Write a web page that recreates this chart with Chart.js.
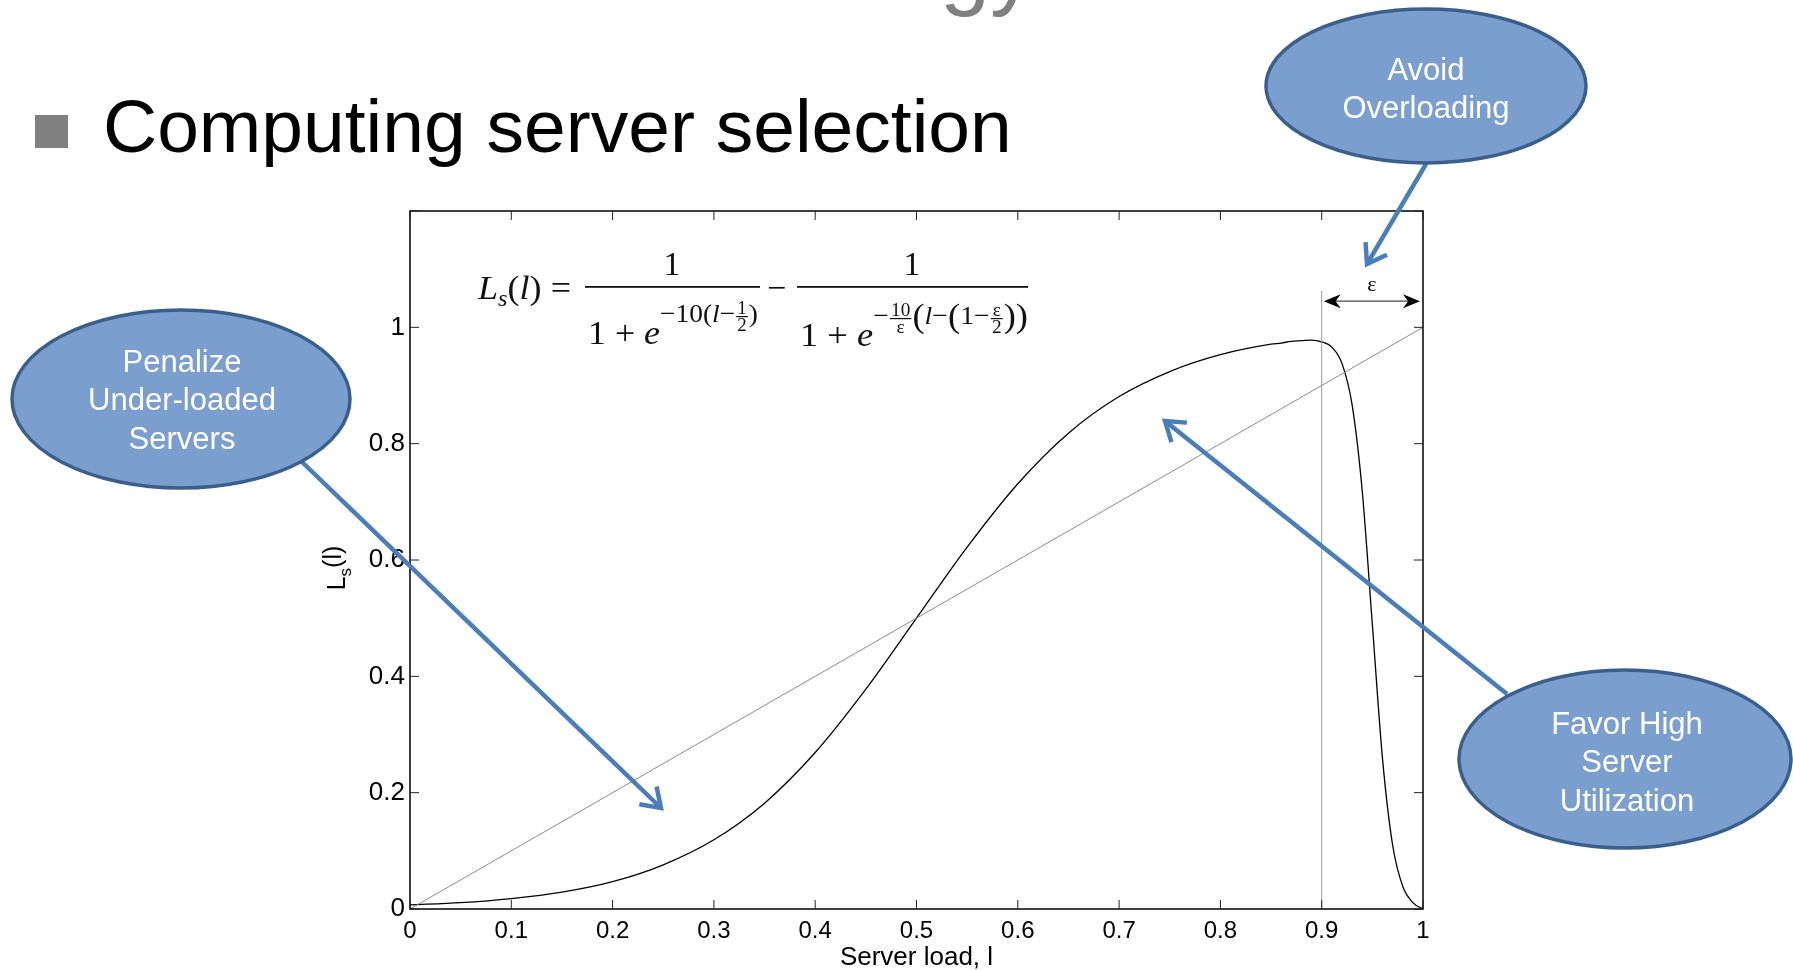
<!DOCTYPE html>
<html>
<head>
<meta charset="utf-8">
<script src="https://cdn.jsdelivr.net/npm/chart.js@4.4.1/dist/chart.umd.min.js"></script>
<style>
  html, body { margin: 0; padding: 0; background: #fff; overflow: hidden; }
  #slide { position: relative; width: 1793px; height: 971px; overflow: hidden;
           font-family: "Liberation Sans", Arial, sans-serif; }
  #plot { position: absolute; left: 0; top: 0; }
  .head { position: absolute; line-height: 1; white-space: nowrap; }
  #bullet { position: absolute; left: 35px; top: 115px; width: 33px; height: 33px; background: #808080; }
  #notes { position: absolute; left: 0; top: 0; }
</style>
</head>
<body>
<div id="slide">
  <div class="head" style="left:940px; top:-78px; font-size:90px; color:#808080;">gy</div>
  <div id="bullet"></div>
  <div class="head" style="left:103px; top:89px; font-size:75px; color:#000;">Computing server selection</div>
  <canvas id="plot" width="1793" height="971"></canvas>
  <svg id="notes" width="1793" height="971"></svg>
</div>
<script>
// server load values and the load-balancing cost
const loadX = [0, 0.05, 0.1, 0.15, 0.2, 0.25, 0.3, 0.35, 0.4, 0.45, 0.5, 0.55, 0.6, 0.65, 0.7, 0.75, 0.8, 0.85,
  0.86, 0.87, 0.88, 0.89, 0.9, 0.91, 0.92, 0.93, 0.94, 0.95, 0.96, 0.97, 0.98, 0.99, 1];
const costY = [0.007, 0.011, 0.018, 0.029, 0.047, 0.076, 0.119, 0.182, 0.269, 0.378, 0.5, 0.622, 0.731, 0.818, 0.881, 0.924, 0.953, 0.971,
  0.973, 0.976, 0.977, 0.978, 0.975, 0.966, 0.938, 0.867, 0.719, 0.489, 0.259, 0.110, 0.039, 0.011, 0];
// reference diagonal L = l
const diagX = [0, 1];
const diagY = [0, 1];
// marker at 1 - epsilon
const markX = [0.9, 0.9];
const markY = [0, 1.063];
// epsilon span drawn above the plot
const epsSpan = [0.9, 1.0];
const epsLevel = 1.045;

const serif = '"Liberation Serif", "DejaVu Serif", serif';
const sans = '"Liberation Sans", Arial, sans-serif';

function pts(xs, ys) {
  return xs.map((x, i) => ({ x: x, y: ys[i] }));
}

// formula pieces: text or small stacked fraction
function pieceWidth(ctx, p) {
  if (p.frac) {
    ctx.font = p.size + 'px ' + serif;
    return Math.max(ctx.measureText(p.frac[0]).width, ctx.measureText(p.frac[1]).width) + 4;
  }
  ctx.font = (p.it ? 'italic ' : '') + p.size + 'px ' + serif;
  return ctx.measureText(p.s).width;
}

function drawRow(ctx, items, x0, x1, base) {
  let total = 0;
  items.forEach(p => { total += pieceWidth(ctx, p); });
  const k = (x1 - x0) / total;
  ctx.save();
  ctx.translate(x0, 0);
  ctx.scale(k, 1);
  let cx = 0;
  items.forEach(p => {
    const w = pieceWidth(ctx, p);
    const y = base + (p.dy || 0);
    if (p.frac) {
      const bar = y - 0.3 * p.size;
      ctx.font = p.size + 'px ' + serif;
      ctx.textAlign = 'center';
      ctx.fillText(p.frac[0], cx + w / 2, bar - 3);
      ctx.fillText(p.frac[1], cx + w / 2, bar + 0.7 * p.size + 2);
      ctx.fillRect(cx + 1, bar - 0.6, w - 2, 1.2);
      ctx.textAlign = 'left';
    } else {
      ctx.font = (p.it ? 'italic ' : '') + p.size + 'px ' + serif;
      ctx.fillText(p.s, cx, y);
    }
    cx += w;
  });
  ctx.restore();
}

function arrowHead(ctx, x, y, dir, len, half) {
  ctx.beginPath();
  ctx.moveTo(x, y);
  ctx.lineTo(x - dir * len, y - half);
  ctx.lineTo(x - dir * len * 0.7, y);
  ctx.lineTo(x - dir * len, y + half);
  ctx.closePath();
  ctx.fill();
}

const frame = {
  id: 'frame',
  afterDatasetsDraw(chart) {
    const { ctx, chartArea: a, scales: { x, y } } = chart;
    ctx.save();
    // box
    ctx.strokeStyle = '#000';
    ctx.lineWidth = 1.5;
    ctx.strokeRect(a.left, a.top, a.right - a.left, a.bottom - a.top);
    // inward ticks on all four sides
    ctx.lineWidth = 1;
    ctx.strokeStyle = '#222';
    ctx.beginPath();
    x.ticks.forEach(t => {
      const px = x.getPixelForValue(t.value);
      ctx.moveTo(px, a.bottom); ctx.lineTo(px, a.bottom - 9);
      ctx.moveTo(px, a.top); ctx.lineTo(px, a.top + 9);
    });
    y.ticks.forEach(t => {
      const py = y.getPixelForValue(t.value);
      ctx.moveTo(a.left, py); ctx.lineTo(a.left + 9, py);
      ctx.moveTo(a.right, py); ctx.lineTo(a.right - 9, py);
    });
    ctx.stroke();

    // epsilon span
    const ex0 = x.getPixelForValue(epsSpan[0]) + 2;
    const ex1 = x.getPixelForValue(epsSpan[1]) - 3;
    const ey = y.getPixelForValue(epsLevel);
    ctx.strokeStyle = '#444';
    ctx.lineWidth = 1.2;
    ctx.beginPath();
    ctx.moveTo(ex0 + 8, ey); ctx.lineTo(ex1 - 8, ey);
    ctx.stroke();
    ctx.fillStyle = '#000';
    arrowHead(ctx, ex0, ey, -1, 17, 7);
    arrowHead(ctx, ex1, ey, 1, 17, 7);
    ctx.font = '22px ' + serif;
    ctx.textAlign = 'center';
    ctx.textBaseline = 'alphabetic';
    ctx.fillText('ε', (ex0 + ex1) / 2, ey - 10);

    // y axis title L_s(l), rotated
    ctx.save();
    ctx.translate(345, 568);
    ctx.rotate(-Math.PI / 2);
    ctx.textAlign = 'left';
    ctx.font = '25px ' + sans;
    const wL = ctx.measureText('L').width;
    ctx.font = '17px ' + sans;
    const wS = ctx.measureText('s').width;
    ctx.font = '25px ' + sans;
    const wP = ctx.measureText('(l)').width;
    let tx = -(wL + wS + wP) / 2;
    ctx.fillText('L', tx, 0); tx += wL;
    ctx.font = '17px ' + sans;
    ctx.fillText('s', tx, 6); tx += wS;
    ctx.font = '25px ' + sans;
    ctx.fillText('(l)', tx, -4);
    ctx.restore();

    // formula
    ctx.fillStyle = '#111';
    ctx.textAlign = 'left';
    drawRow(ctx, [
      { s: 'L', size: 34, it: true },
      { s: 's', size: 23, it: true, dy: 7 },
      { s: '(', size: 34 },
      { s: 'l', size: 34, it: true },
      { s: ') = ', size: 34 }
    ], 478, 580, 299);
    ctx.fillRect(585, 286, 175, 1.8);
    ctx.fillRect(797, 286, 231, 1.8);
    ctx.font = '34px ' + serif;
    ctx.fillText('−', 767, 299);
    ctx.textAlign = 'center';
    ctx.fillText('1', 672, 275);
    ctx.fillText('1', 912, 275);
    ctx.textAlign = 'left';
    drawRow(ctx, [
      { s: '1 + ', size: 34 },
      { s: 'e', size: 34, it: true },
      { s: '−10(', size: 26, dy: -22 },
      { s: 'l', size: 26, it: true, dy: -22 },
      { s: '−', size: 26, dy: -22 },
      { frac: ['1', '2'], size: 18, dy: -22 },
      { s: ')', size: 26, dy: -22 }
    ], 588, 758, 344);
    drawRow(ctx, [
      { s: '1 + ', size: 34 },
      { s: 'e', size: 34, it: true },
      { s: '−', size: 26, dy: -22 },
      { frac: ['10', 'ε'], size: 18, dy: -22 },
      { s: '(', size: 34, dy: -19 },
      { s: 'l', size: 26, it: true, dy: -22 },
      { s: '−', size: 26, dy: -22 },
      { s: '(', size: 34, dy: -19 },
      { s: '1−', size: 26, dy: -22 },
      { frac: ['ε', '2'], size: 18, dy: -22 },
      { s: '))', size: 34, dy: -19 }
    ], 800, 1028, 346);
    ctx.restore();
  }
};

new Chart(document.getElementById('plot'), {
  type: 'scatter',
  data: {
    datasets: [
      { data: pts(diagX, diagY), showLine: true, borderColor: '#8c8c8c', borderWidth: 1, pointRadius: 0 },
      { data: pts(markX, markY), showLine: true, borderColor: '#9a9a9a', borderWidth: 1, pointRadius: 0 },
      { data: pts(loadX, costY), showLine: true, borderColor: '#000', borderWidth: 1.3, pointRadius: 0,
        cubicInterpolationMode: 'monotone' }
    ]
  },
  options: {
    responsive: false,
    animation: false,
    events: [],
    layout: { padding: { left: 0, right: 370, top: 211, bottom: 0 } },
    plugins: { legend: { display: false }, tooltip: { enabled: false } },
    scales: {
      x: {
        min: 0, max: 1,
        grid: { display: false, drawTicks: false },
        border: { display: false },
        ticks: { stepSize: 0.1, padding: 8, color: '#000', font: { family: sans, size: 24 },
          maxRotation: 0, callback: v => +v.toFixed(1) },
        title: { display: true, text: 'Server load, l', color: '#000', padding: 0,
          font: { family: sans, size: 26, lineHeight: 1 } },
        afterFit: s => { s.height = 62; }
      },
      y: {
        min: 0, max: 1.2,
        grid: { display: false, drawTicks: false },
        border: { display: false },
        ticks: { stepSize: 0.2, padding: 5, color: '#000', font: { family: sans, size: 26 },
          callback: v => (v > 1.05 ? '' : +v.toFixed(1)) },
        afterFit: s => { s.width = 410; }
      }
    }
  },
  plugins: [frame]
});

// callout bubbles and their pointers
const bubbles = [
  { cx: 181, cy: 399, rx: 169, ry: 89, tx: 182, ty: 361, lines: ['Penalize', 'Under-loaded', 'Servers'] },
  { cx: 1426, cy: 86, rx: 160, ry: 77, tx: 1426, ty: 69, lines: ['Avoid', 'Overloading'] },
  { cx: 1625, cy: 759, rx: 166, ry: 89, tx: 1627, ty: 723, lines: ['Favor High', 'Server', 'Utilization'] }
];
const pointers = [
  { from: [301, 461], to: [661, 808] },
  { from: [1426, 164], to: [1367, 264] },
  { from: [1507, 694], to: [1165, 421] }
];

const svg = document.getElementById('notes');
const NS = 'http://www.w3.org/2000/svg';
function el(tag, attrs) {
  const e = document.createElementNS(NS, tag);
  Object.keys(attrs).forEach(k => e.setAttribute(k, attrs[k]));
  svg.appendChild(e);
  return e;
}

pointers.forEach(p => {
  const [x0, y0] = p.from, [x1, y1] = p.to;
  const ang = Math.atan2(y1 - y0, x1 - x0);
  const len = 22, spread = 0.6;
  const a1 = [x1 - len * Math.cos(ang - spread), y1 - len * Math.sin(ang - spread)];
  const a2 = [x1 - len * Math.cos(ang + spread), y1 - len * Math.sin(ang + spread)];
  el('line', { x1: x0, y1: y0, x2: x1, y2: y1, stroke: '#4A7EBB', 'stroke-width': 4.5 });
  el('polyline', { points: a1.join(',') + ' ' + x1 + ',' + y1 + ' ' + a2.join(','),
    fill: 'none', stroke: '#4A7EBB', 'stroke-width': 4.5, 'stroke-linejoin': 'miter' });
});

bubbles.forEach(b => {
  el('ellipse', { cx: b.cx, cy: b.cy, rx: b.rx, ry: b.ry, fill: '#7A9ECE', stroke: '#3B5F8D', 'stroke-width': 3.5 });
  b.lines.forEach((t, i) => {
    const txt = el('text', { x: b.tx, y: b.ty + i * 38.5, fill: '#fff', 'text-anchor': 'middle',
      'dominant-baseline': 'central', 'font-family': sans, 'font-size': 31 });
    txt.textContent = t;
  });
});
</script>
</body>
</html>
